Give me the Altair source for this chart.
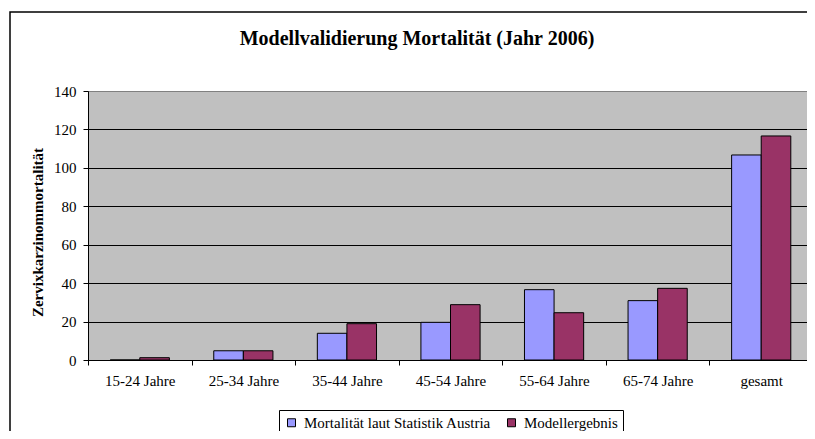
import altair as alt
import pandas as pd

categories = ["15-24 Jahre", "25-34 Jahre", "35-44 Jahre", "45-54 Jahre",
              "55-64 Jahre", "65-74 Jahre", "gesamt"]
series = ["Mortalität laut Statistik Austria", "Modellergebnis"]
statistik = [0, 4.8, 13.9, 19.6, 36.6, 30.9, 106.7]
modell = [1.2, 4.8, 18.9, 28.8, 24.6, 37.3, 116.6]
y_ticks = [0, 20, 40, 60, 80, 100, 120, 140]
title_text = "Modellvalidierung Mortalität (Jahr 2006)"
y_title = "Zervixkarzinommortalität"
colors = ["#9999FF", "#993366"]

rows = []
for c, a, b in zip(categories, statistik, modell):
    rows.append({"Kategorie": c, "Serie": series[0], "Wert": a})
    rows.append({"Kategorie": c, "Serie": series[1], "Wert": b})
df = pd.DataFrame(rows)

W, H = 725, 269
FONT = "Liberation Serif"

bars = alt.Chart(df).mark_bar(stroke="black", strokeWidth=1).encode(
    x=alt.X("Kategorie:N", sort=categories,
            scale=alt.Scale(paddingInner=0, paddingOuter=0),
            axis=alt.Axis(title=None, labelAngle=0, tickBand="extent", grid=False,
                          domainColor="black", tickColor="black", tickSize=5,
                          labelFont=FONT, labelFontSize=15, labelColor="black",
                          labelPadding=8)),
    xOffset=alt.XOffset("Serie:N", sort=series,
                        scale=alt.Scale(paddingOuter=0.75, paddingInner=0)),
    y=alt.Y("Wert:Q", scale=alt.Scale(domain=[0, 140], nice=False),
            axis=alt.Axis(values=y_ticks, title=y_title,
                          domainColor="black", tickColor="black", tickSize=5,
                          labelFont=FONT, labelFontSize=15, labelColor="black",
                          labelPadding=7,
                          gridColor={"condition": {"test": "datum.value === 140", "value": "#808080"},
                                     "value": "black"},
                          gridWidth=1, gridOpacity=1,
                          titleFont=FONT, titleFontSize=15, titleFontWeight="bold",
                          titleColor="black", titleX=-46, titleY=141, titleAngle=270,
                          titleAlign="center", titleBaseline="alphabetic")),
    color=alt.Color("Serie:N", sort=series,
                    scale=alt.Scale(domain=series, range=colors),
                    legend=alt.Legend(orient="none", legendX=191, legendY=319,
                                      direction="horizontal", title=None,
                                      strokeColor="black", fillColor="white",
                                      padding=5, symbolType="square", symbolSize=64,
                                      symbolStrokeColor="black", symbolStrokeWidth=1,
                                      labelFont=FONT, labelFontSize=15, labelLimit=0,
                                      labelColor="black", columnPadding=12,
                                      labelOffset=5)),
)

one = pd.DataFrame({"t": [title_text]})

frame = alt.Chart(one).mark_rect(fill="transparent", stroke="black", strokeWidth=1.5).encode(
    x=alt.value(-78), x2=alt.value(W + 40), y=alt.value(-79), y2=alt.value(H + 140)
)

title = alt.Chart(one).mark_text(font=FONT, fontSize=20, fontWeight="bold",
                                 color="black", align="center",
                                 baseline="alphabetic").encode(
    x=alt.value(329), y=alt.value(-46), text="t:N"
)

chart = alt.layer(frame, bars, title).properties(
    width=W, height=H,
    autosize=alt.AutoSizeParams(type="none"),
    padding={"left": 80, "top": 83, "right": -6, "bottom": 71},
    background="white",
).configure_view(fill="#C0C0C0", stroke="#808080").configure_axis(
    labelFont=FONT, titleFont=FONT
).configure_legend(labelFont=FONT).configure_text(font=FONT)

chart.save("out.html", embed_options={"renderer": "svg", "actions": False})
